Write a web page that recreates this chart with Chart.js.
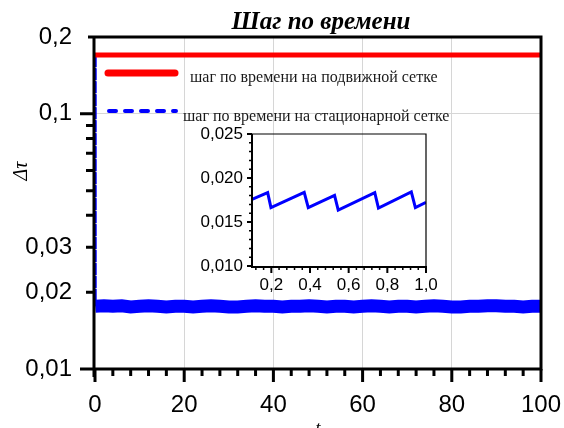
<!DOCTYPE html>
<html>
<head>
<meta charset="utf-8">
<script src="https://cdn.jsdelivr.net/npm/chart.js@4"></script>
<style>
  body { margin: 0; background: #fff; }
  #wrap { position: relative; width: 564px; height: 428px; overflow: hidden; }
  #main { position: absolute; left: 0; top: 0; }
  #inset { position: absolute; left: 180px; top: 110px; }
</style>
</head>
<body>
<div id="wrap">
  <canvas id="main" width="564" height="428"></canvas>
  <canvas id="inset" width="260" height="195"></canvas>
</div>
<script>
// main chart data
const titleText = 'Шаг по времени';
const legendMoving = 'шаг по времени на подвижной сетке';
const legendStationary = 'шаг по времени на стационарной сетке';

const movingTime = [0, 100];
const movingStep = [0.17, 0.17];

const stationaryTime = [0, 0.05, 2, 4, 6, 8, 10, 12, 14, 16, 18, 20, 22, 24, 26, 28, 30, 32, 34, 36, 38, 40,
  42, 44, 46, 48, 50, 52, 54, 56, 58, 60, 62, 64, 66, 68, 70, 72, 74, 76, 78, 80,
  82, 84, 86, 88, 90, 92, 94, 96, 98, 100];
const stationaryStep = [0.17, 0.0176, 0.0177, 0.0176, 0.0177, 0.0175, 0.0176, 0.0177, 0.0176, 0.0175, 0.0176, 0.0176,
  0.0175, 0.0176, 0.0177, 0.0176, 0.0175, 0.0175, 0.0176, 0.0177, 0.0176, 0.0176,
  0.0175, 0.0176, 0.0176, 0.0177, 0.0176, 0.0175, 0.0176, 0.0176, 0.0175, 0.0176,
  0.0177, 0.0176, 0.0175, 0.0176, 0.0176, 0.0175, 0.0176, 0.0177, 0.0176, 0.0175,
  0.0175, 0.0176, 0.0176, 0.0177, 0.0177, 0.0176, 0.0176, 0.0175, 0.0176, 0.0176];

const xTicks = [0, 20, 40, 60, 80, 100];
const xMinorTicks = [4, 8, 12, 16, 24, 28, 32, 36, 44, 48, 52, 56, 64, 68, 72, 76, 84, 88, 92, 96];
const yTickValues = [0.01, 0.02, 0.03, 0.04, 0.05, 0.06, 0.07, 0.08, 0.09, 0.1, 0.2];
const yTickLabels = ['0,01', '0,02', '0,03', '', '', '', '', '', '', '0,1', '0,2'];

// inset data
const insetTime = [0.1, 0.181, 0.198, 0.370, 0.391, 0.527, 0.546, 0.735, 0.754, 0.924, 0.945, 1.0];
const insetStep = [0.01758, 0.01833, 0.01663, 0.01837, 0.01663, 0.01803, 0.01636, 0.01833, 0.01659, 0.01841, 0.01663, 0.01723];
const insetXTicks = [0.2, 0.4, 0.6, 0.8, 1.0];
const insetXLabels = ['0,2', '0,4', '0,6', '0,8', '1,0'];
const insetXMinor = [0.12, 0.16, 0.24, 0.28, 0.32, 0.36, 0.44, 0.48, 0.52, 0.56, 0.64, 0.68, 0.72, 0.76, 0.84, 0.88, 0.92, 0.96];
const insetYTicks = [0.010, 0.015, 0.020, 0.025];
const insetYLabels = ['0,010', '0,015', '0,020', '0,025'];

const sans = 'Liberation Sans, Arial, sans-serif';
const serif = 'Liberation Serif, Times New Roman, serif';

function pts(xs, ys) {
  return xs.map((x, i) => ({ x: x, y: ys[i] }));
}

function noPad(s) {
  s.paddingLeft = 0; s.paddingRight = 0; s.paddingTop = 0; s.paddingBottom = 0;
}

// frame, ticks, titles and legend for the main chart
const mainDecor = {
  id: 'mainDecor',
  afterDatasetsDraw(chart) {
    const ctx = chart.ctx;
    const a = chart.chartArea;
    const xs = chart.scales.x, ys = chart.scales.y;
    ctx.save();
    ctx.strokeStyle = '#000';
    ctx.lineWidth = 3;
    ctx.lineCap = 'butt';
    ctx.beginPath();
    // left axis
    ctx.moveTo(a.left - 1, a.top - 1.5); ctx.lineTo(a.left - 1, a.bottom + 8);
    // bottom axis
    ctx.moveTo(a.left - 15, a.bottom); ctx.lineTo(a.right + 1.5, a.bottom);
    // top + right frame
    ctx.moveTo(a.left - 7, a.top); ctx.lineTo(a.right + 1.5, a.top);
    ctx.moveTo(a.right, a.top); ctx.lineTo(a.right, a.bottom);
    ctx.stroke();

    ctx.beginPath();
    yTickValues.forEach(v => {
      if (v === 0.01 || v === 0.2) return;
      const y = ys.getPixelForValue(v);
      const len = v === 0.1 ? 14 : 8;
      ctx.moveTo(a.left - 1, y); ctx.lineTo(a.left - 1 - len, y);
    });
    xTicks.forEach(v => {
      const x = xs.getPixelForValue(v);
      ctx.moveTo(x, a.bottom); ctx.lineTo(x, a.bottom + 13);
    });
    xMinorTicks.forEach(v => {
      const x = xs.getPixelForValue(v);
      ctx.moveTo(x, a.bottom); ctx.lineTo(x, a.bottom + 7);
    });
    ctx.stroke();
    ctx.restore();
  },
  afterDraw(chart) {
    const ctx = chart.ctx;
    ctx.save();
    // title
    ctx.fillStyle = '#000';
    ctx.font = 'italic bold 25px ' + serif;
    ctx.textAlign = 'center';
    ctx.textBaseline = 'alphabetic';
    ctx.fillText(titleText, 321, 29);
    // axis titles
    ctx.font = 'italic 18px ' + serif;
    ctx.fillText('t', 318, 434);
    ctx.font = 'italic 20px ' + serif;
    ctx.translate(27, 171);
    ctx.rotate(-Math.PI / 2);
    ctx.fillText('Δτ', 0, 0);
    ctx.restore();

    // legend
    ctx.save();
    ctx.lineCap = 'round';
    ctx.strokeStyle = '#ff0000';
    ctx.lineWidth = 7;
    ctx.beginPath(); ctx.moveTo(108, 73); ctx.lineTo(175, 73); ctx.stroke();
    ctx.strokeStyle = '#0000ff';
    ctx.lineWidth = 4;
    ctx.setLineDash([7, 9]);
    ctx.beginPath(); ctx.moveTo(109, 111); ctx.lineTo(176, 111); ctx.stroke();
    ctx.setLineDash([]);
    ctx.fillStyle = '#1a1a1a';
    ctx.font = '16px ' + serif;
    ctx.textAlign = 'left';
    ctx.fillText(legendMoving, 190, 82);
    ctx.fillText(legendStationary, 183, 121);
    ctx.restore();
  }
};

new Chart(document.getElementById('main'), {
  type: 'line',
  data: {
    datasets: [
      {
        label: legendMoving,
        data: pts(movingTime, movingStep),
        borderColor: '#ff0000',
        borderWidth: 5,
        pointRadius: 0
      },
      {
        label: legendStationary,
        data: pts(stationaryTime, stationaryStep),
        borderColor: '#0000ff',
        borderWidth: 13,
        pointRadius: 0,
        segment: {
          borderWidth: c => c.p0DataIndex === 0 ? 3 : undefined,
          borderDash: c => c.p0DataIndex === 0 ? [8, 5] : undefined
        }
      }
    ]
  },
  options: {
    responsive: false,
    animation: false,
    layout: { padding: { top: 37, right: 23, left: 0, bottom: 0 } },
    plugins: { legend: { display: false }, tooltip: { enabled: false } },
    scales: {
      x: {
        type: 'linear', min: 0, max: 100,
        afterBuildTicks: s => { s.ticks = xTicks.map(v => ({ value: v })); },
        afterFit: s => { s.height = 59; noPad(s); },
        ticks: { color: '#000', padding: 22, maxRotation: 0, font: { family: sans, size: 24 } },
        grid: {
          drawTicks: false,
          lineWidth: 1,
          color: c => (c.tick && c.tick.value > 0 && c.tick.value < 100) ? '#d6d6d6' : 'rgba(0,0,0,0)'
        },
        border: { display: false }
      },
      y: {
        type: 'logarithmic', min: 0.01, max: 0.2,
        afterBuildTicks: s => { s.ticks = yTickValues.map(v => ({ value: v })); },
        afterFit: s => { s.width = 95; noPad(s); },
        ticks: {
          color: '#000', padding: 23, font: { family: sans, size: 24 },
          callback: v => yTickLabels[yTickValues.indexOf(v)]
        },
        grid: {
          drawTicks: false,
          lineWidth: 1,
          color: c => (c.tick && c.tick.value === 0.1) ? '#d6d6d6' : 'rgba(0,0,0,0)'
        },
        border: { display: false }
      }
    }
  },
  plugins: [mainDecor]
});

// inset axes and ticks
const insetDecor = {
  id: 'insetDecor',
  afterDatasetsDraw(chart) {
    const ctx = chart.ctx;
    const a = chart.chartArea;
    const xs = chart.scales.x, ys = chart.scales.y;
    ctx.save();
    ctx.strokeStyle = '#000';
    ctx.lineWidth = 1.2;
    ctx.beginPath();
    ctx.moveTo(a.left, a.top); ctx.lineTo(a.right, a.top); ctx.lineTo(a.right, a.bottom);
    ctx.stroke();
    ctx.lineWidth = 2;
    ctx.beginPath();
    ctx.moveTo(a.left, a.top); ctx.lineTo(a.left, a.bottom + 1); ctx.lineTo(a.right + 0.6, a.bottom + 1);
    insetYTicks.forEach(v => {
      const y = ys.getPixelForValue(v);
      ctx.moveTo(a.left, y); ctx.lineTo(a.left - 5, y);
    });
    insetXTicks.forEach(v => {
      const x = xs.getPixelForValue(v);
      ctx.moveTo(x, a.bottom); ctx.lineTo(x, a.bottom + 7);
    });
    ctx.stroke();
    ctx.lineWidth = 1.5;
    ctx.beginPath();
    for (let k = 0; k < insetYTicks.length - 1; k++) {
      for (let m = 1; m < 5; m++) {
        const y = ys.getPixelForValue(insetYTicks[k] + m * 0.001);
        ctx.moveTo(a.left, y); ctx.lineTo(a.left - 3, y);
      }
    }
    insetXMinor.forEach(v => {
      const x = xs.getPixelForValue(v);
      ctx.moveTo(x, a.bottom); ctx.lineTo(x, a.bottom + 4);
    });
    ctx.stroke();
    ctx.restore();
  }
};

new Chart(document.getElementById('inset'), {
  type: 'line',
  data: {
    datasets: [{
      data: pts(insetTime, insetStep),
      borderColor: '#0000ff',
      borderWidth: 3,
      pointRadius: 0
    }]
  },
  options: {
    responsive: false,
    animation: false,
    layout: { padding: { top: 24, right: 14, left: 0, bottom: 0 } },
    plugins: { legend: { display: false }, tooltip: { enabled: false } },
    scales: {
      x: {
        type: 'linear', min: 0.1, max: 1.0,
        afterBuildTicks: s => { s.ticks = insetXTicks.map(v => ({ value: v })); },
        afterFit: s => { s.height = 39; noPad(s); },
        ticks: {
          color: '#000', padding: 9, maxRotation: 0, font: { family: sans, size: 17 },
          callback: v => insetXLabels[insetXTicks.indexOf(v)]
        },
        grid: { display: false, drawTicks: false },
        border: { display: false }
      },
      y: {
        type: 'linear', min: 0.010, max: 0.025,
        afterBuildTicks: s => { s.ticks = insetYTicks.map(v => ({ value: v })); },
        afterFit: s => { s.width = 72; noPad(s); },
        ticks: {
          color: '#000', padding: 9, font: { family: sans, size: 17 },
          callback: v => insetYLabels[insetYTicks.indexOf(v)]
        },
        grid: { display: false, drawTicks: false },
        border: { display: false }
      }
    }
  },
  plugins: [insetDecor]
});
</script>
</body>
</html>
